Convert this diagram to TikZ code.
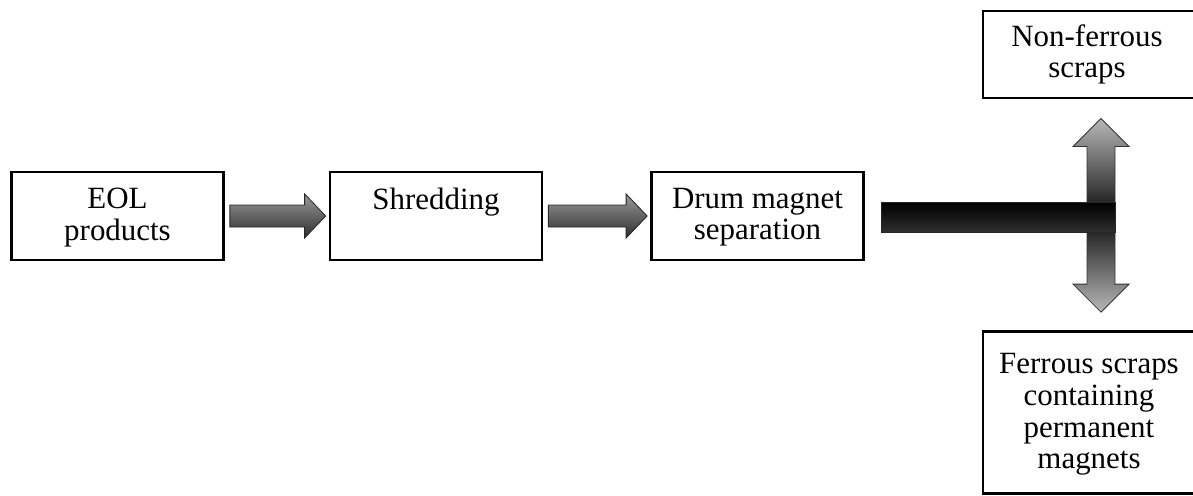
\documentclass[tikz,border=0pt]{standalone}
\usepackage{fontspec}
\setmainfont{Liberation Serif}
\usetikzlibrary{calc}

\begin{document}
\begin{tikzpicture}[x=0.025cm, y=-0.025cm,
    stagebox/.style={draw, line width=1.9pt, minimum width=5.3cm, minimum height=2.2cm, inner sep=0pt},
    stagetext/.style={align=center, inner sep=0pt, font=\fontsize{22}{22.6}\selectfont},
    flowarrow/.style={top color=black!40, bottom color=black!82, draw=black!85, line width=0.6pt},
    splitup/.style={top color=black!28, bottom color=black!95, draw=black!80, line width=0.6pt},
    splitdown/.style={top color=black!95, bottom color=black!28, draw=black!80, line width=0.6pt},
    splitbar/.style={top color=black, bottom color=black!82, draw=black!85, line width=0.6pt}]
        \useasboundingbox (0,0) rectangle (1193,495);
        \clip (0,0) rectangle (1193,495);

        % process stages
        \node[stagebox] (eol) at (117.5,216) {};
        \node[stagebox] (shred) at (436,216) {};
        \node[stagebox] (drum) at (757.5,216) {};
        \node[stagebox, minimum width=5.4cm, minimum height=2.18cm] (nonfer) at (1091,54.5) {};
        \node[stagebox, minimum width=5.4cm, minimum height=4.05cm] (ferrous) at (1091,412.5) {};

        \node[stagetext, anchor=north] (eol-txt) at ($(eol.north)+(0,17)$) {EOL\\products};
        \node[stagetext, anchor=north] (shred-txt) at ($(shred.north)+(0,17)$) {Shredding};
        \node[stagetext, anchor=north] (drum-txt) at ($(drum.north)+(0,17)$) {Drum magnet\\separation};
        \node[stagetext] (nonfer-txt) at ($(nonfer)+(-4,0)$) {Non-ferrous\\scraps};
        \node[stagetext] (ferrous-txt) at ($(ferrous)+(-2,2)$) {Ferrous scraps\\containing\\permanent\\magnets};

        % block arrows between stages
        \foreach \a/\b in {eol/shred, shred/drum}
            \shade[flowarrow] ($(\a.east)+(5,-11)$) -- ($(\b.west)+(-24,-11)$) -- ($(\b.west)+(-24,-22)$)
                -- ($(\b.west)+(-3,0)$) -- ($(\b.west)+(-24,22)$) -- ($(\b.west)+(-24,11)$)
                -- ($(\a.east)+(5,11)$) -- cycle;

        % split after the drum magnet
        \coordinate (fork) at (1101,217);
        \coordinate (up) at ($(fork |- nonfer.south)+(0,19)$);
        \coordinate (dn) at ($(fork |- ferrous.north)+(0,-18)$);
        \shade[splitup] (up) -- ++(28,28) -- ++(-14,0) -- ($(fork)+(14,0)$)
            -- ($(fork)+(-14,0)$) -- ($(up)+(-14,28)$) -- ++(-14,0) -- cycle;
        \shade[splitdown] (dn) -- ++(28,-28) -- ++(-14,0) -- ($(fork)+(14,0)$)
            -- ($(fork)+(-14,0)$) -- ($(dn)+(-14,-28)$) -- ++(-14,0) -- cycle;
        \shade[splitbar] ($(drum.east)+(17,-14)$) rectangle ($(fork)+(14,15)$);
    \end{tikzpicture}
\end{document}
